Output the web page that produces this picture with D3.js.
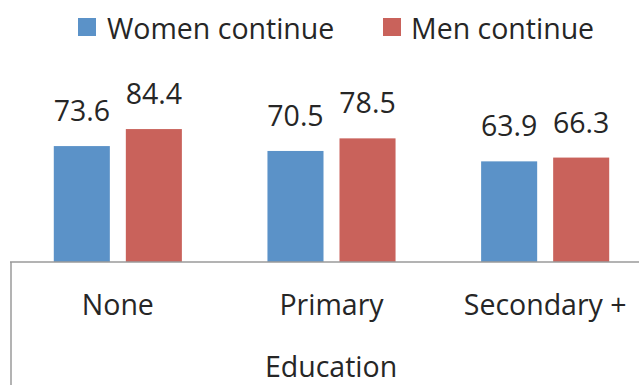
<!DOCTYPE html>
<html>
<head>
<meta charset="utf-8">
<script src="https://cdn.jsdelivr.net/npm/d3@7"></script>
<style>
  html, body { margin: 0; padding: 0; background: #fff; }
  svg { display: block; }
  text { font-family: "Open Sans", "Noto Sans", sans-serif; fill: #262626; }
</style>
</head>
<body>
<svg id="chart" width="639" height="385"></svg>
<script>
// Share who continue, by education level
const categories = ["None", "Primary", "Secondary +"];
const seriesNames = ["Women continue", "Men continue"];
const womenValues = [73.6, 70.5, 63.9];
const menValues = [84.4, 78.5, 66.3];
const axisTitle = "Education";
const colors = ["#5b92c8", "#c9625b"];

const rows = categories.map((c, i) => ({ cat: c, vals: [womenValues[i], menValues[i]] }));

const svg = d3.select("#chart");
const W = 639, H = 385;
const baseY = 262;

const x0 = d3.scaleBand().domain(categories).range([11, 652]).paddingInner(0).paddingOuter(0);
const x1 = d3.scaleBand().domain(d3.range(seriesNames.length)).range([0, x0.bandwidth()])
  .paddingInner(0.222).paddingOuter(0.594);
const y = d3.scaleLinear().domain([0, 100]).range([baseY, 104.5]);
const color = d3.scaleOrdinal().domain(d3.range(seriesNames.length)).range(colors);

// Bars
const groups = svg.append("g").selectAll("g").data(rows).join("g")
  .attr("transform", d => `translate(${x0(d.cat)},0)`);

groups.selectAll("rect").data(d => d.vals.map((v, i) => ({ v, i }))).join("rect")
  .attr("x", d => x1(d.i))
  .attr("y", d => y(d.v))
  .attr("width", x1.bandwidth())
  .attr("height", d => y(0) - y(d.v))
  .attr("fill", d => color(d.i));

// Value labels
groups.selectAll("text.val").data(d => d.vals.map((v, i) => ({ v, i }))).join("text")
  .attr("class", "val")
  .attr("x", d => x1(d.i) + x1.bandwidth() / 2)
  .attr("y", d => y(d.v) - 25)
  .attr("text-anchor", "middle")
  .style("font-size", "28.5px")
  .text(d => d.v.toFixed(1));

// Category axis
const xAxis = svg.append("g").attr("transform", `translate(0,${baseY})`)
  .call(d3.axisBottom(x0).tickSize(0).tickPadding(0));
xAxis.select(".domain").remove();
xAxis.selectAll("text")
  .attr("y", 315 - baseY)
  .attr("dy", null)
  .style("font-size", "28.5px")
  .style("font-family", "\"Open Sans\", sans-serif")
  .attr("fill", "#262626");

svg.append("line")
  .attr("x1", 10).attr("x2", W).attr("y1", baseY).attr("y2", baseY)
  .attr("stroke", "#9a9a9a").attr("stroke-width", 1.5);
svg.append("line")
  .attr("x1", 11).attr("x2", 11).attr("y1", baseY).attr("y2", H)
  .attr("stroke", "#9a9a9a").attr("stroke-width", 1.5);

// Axis title
svg.append("text")
  .attr("x", 331).attr("y", 377)
  .attr("text-anchor", "middle")
  .style("font-size", "28.5px")
  .text(axisTitle);

// Legend
const legendX = [78, 383];
const legend = svg.append("g").selectAll("g").data(seriesNames).join("g")
  .attr("transform", (d, i) => `translate(${legendX[i]},0)`);
legend.append("rect")
  .attr("x", 0).attr("y", 18).attr("width", 18).attr("height", 18)
  .attr("fill", (d, i) => color(i));
legend.append("text")
  .attr("x", (d, i) => i === 0 ? 29 : 28).attr("y", 39)
  .style("font-size", "28.5px")
  .text(d => d);
</script>
</body>
</html>
